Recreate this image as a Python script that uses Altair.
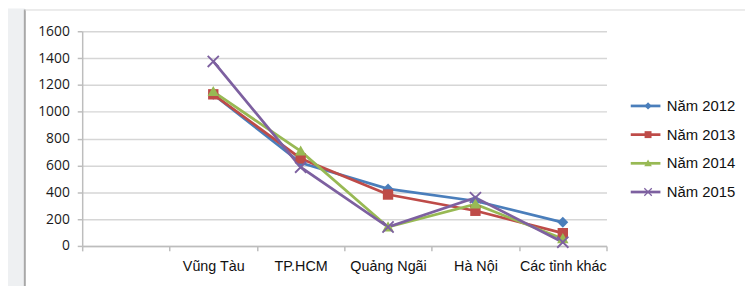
import altair as alt
import pandas as pd

categories = ["Vũng Tàu", "TP.HCM", "Quảng Ngãi", "Hà Nội", "Các tỉnh khác"]
series_names = ["Năm 2012", "Năm 2013", "Năm 2014", "Năm 2015"]
v2012 = [1130, 620, 425, 335, 176]
v2013 = [1130, 652, 383, 262, 95]
v2014 = [1150, 706, 141, 311, 53]
v2015 = [1375, 587, 141, 360, 28]
y_ticks = [0, 200, 400, 600, 800, 1000, 1200, 1400, 1600]

colors = ["#4a7ebb", "#be4b48", "#98b954", "#7d60a0"]
shapes = [
    "M0,-1.05L1.05,0L0,1.05L-1.05,0Z",
    "M-1,-1H1V1H-1Z",
    "M0,-1.1L1.1,0.85H-1.1Z",
    "M-1.2,-0.95L-0.95,-1.2L1.2,0.95L0.95,1.2Z M0.95,-1.2L1.2,-0.95L-0.95,1.2L-1.2,0.95Z",
]

rows = []
for name, vals in zip(series_names, [v2012, v2013, v2014, v2015]):
    for c, v in zip(categories, vals):
        rows.append({"cat": c, "value": v, "series": name, "series_p": name})
df = pd.DataFrame(rows)

domain_x = [" "] + categories

x_enc = alt.X(
    "cat:N",
    bandPosition=0.5,
    scale=alt.Scale(type="band", domain=domain_x, paddingInner=0, paddingOuter=0),
    axis=alt.Axis(
        title=None, tickBand="extent", labelAngle=0, labelFont="Liberation Sans",
        labelFontSize=14.5, labelColor="#111111", tickSize=5, tickColor="#bdbdbd",
        tickWidth=1.5, domainColor="#bdbdbd", domainWidth=1.5, labelPadding=9,
        grid=False, labelOverlap=False, labelBound=False,
    ),
)
y_enc = alt.Y(
    "value:Q",
    scale=alt.Scale(domain=[0, 1600], nice=False),
    axis=alt.Axis(
        values=y_ticks, format="d", title=None, grid=True, gridColor="#d6d6d6", gridWidth=1.5,
        domainColor="#bdbdbd", domainWidth=1.5, tickColor="#bdbdbd", tickWidth=1.5,
        tickSize=5, labelFont="Open Sans", labelFontSize=14, labelPadding=8,
        labelColor="#1a1a1a",
    ),
)

base = alt.Chart(df)

lines = base.mark_line(strokeWidth=2.75).encode(
    x=x_enc,
    y=y_enc,
    stroke=alt.Stroke(
        "series:N",
        scale=alt.Scale(range=colors),
        legend=alt.Legend(
            title=None, orient="none", legendX=574, legendY=68,
            symbolType="M-9,0H1", symbolSize=36, symbolStrokeWidth=2.75,
            labelFont="Liberation Sans", labelFontSize=15, labelColor="#111111",
            labelOffset=2, rowPadding=13, padding=0,
        ),
    ),
    order=alt.Order("series:N"),
)

pts_legend = alt.Legend(
    title=None, orient="none", legendX=564.5, legendY=68,
    symbolSize=49, symbolStrokeWidth=0, labelExpr="' '",
    labelFont="Liberation Sans", labelFontSize=15,
    labelOffset=3, rowPadding=13, padding=0,
)
points = base.mark_point(filled=True, size=110, opacity=1).encode(
    x=x_enc,
    y=y_enc,
    fill=alt.Fill("series_p:N", scale=alt.Scale(domain=series_names, range=colors), legend=pts_legend),
    shape=alt.Shape("series_p:N", scale=alt.Scale(domain=series_names, range=shapes), legend=pts_legend),
)

frame_df = pd.DataFrame({"k": [0]})
strip = alt.Chart(frame_df).mark_rect(color="#eef0f2").encode(
    x=alt.value(-76), x2=alt.value(-58), y=alt.value(-23), y2=alt.value(260)
)
left_border = alt.Chart(frame_df).mark_rule(color="#a8a8a8", strokeWidth=2).encode(
    x=alt.value(-58), y=alt.value(-22), y2=alt.value(260)
)
top_border = alt.Chart(frame_df).mark_rule(color="#d8d8d8", strokeWidth=1).encode(
    x=alt.value(-58), x2=alt.value(680), y=alt.value(-21.5)
)

chart = alt.layer(strip, left_border, top_border, lines, points).properties(
    width=530,
    height=217,
    padding={"left": 75, "top": 22, "right": 140, "bottom": 39},
    autosize=alt.AutoSizeParams(type="none"),
    background="white",
).configure_view(strokeWidth=0)

chart.save("out.html", embed_options={"renderer": "svg", "actions": False})
